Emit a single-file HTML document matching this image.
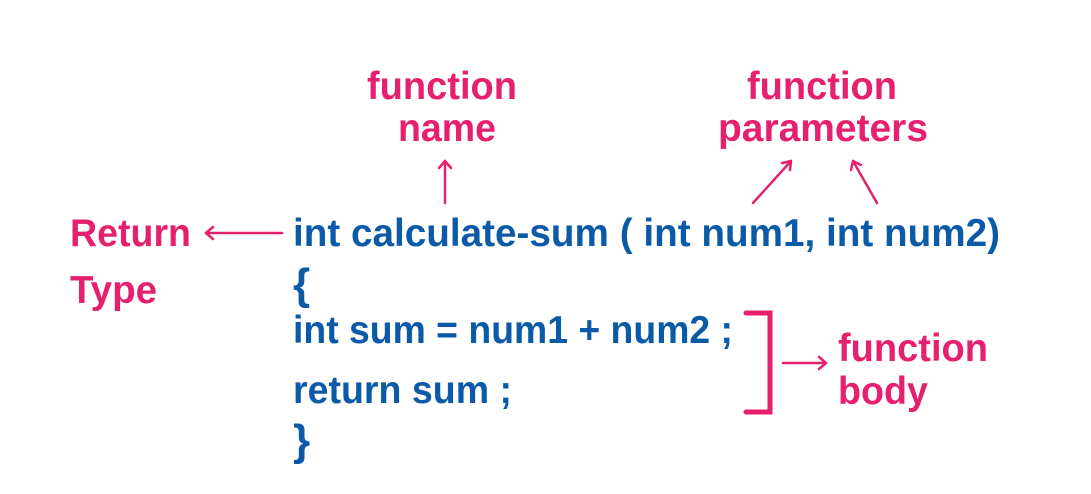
<!DOCTYPE html>
<html><head><meta charset="utf-8"><style>
html,body{margin:0;padding:0;background:#fff;}
svg{display:block;}
text{font-family:"Liberation Sans",sans-serif;font-weight:bold;}
.b{fill:#0b5aa8;font-size:39px;}
.p{fill:#e6206f;font-size:39px;}
</style></head><body>
<svg width="1091" height="494" viewBox="0 0 1091 494" xmlns="http://www.w3.org/2000/svg">
<g class="p">
<text x="367" y="99" class="p" textLength="150" lengthAdjust="spacingAndGlyphs">function</text>
<text x="398" y="141" class="p" textLength="98" lengthAdjust="spacingAndGlyphs">name</text>
<text x="747" y="99" class="p" textLength="150" lengthAdjust="spacingAndGlyphs">function</text>
<text x="718" y="141" class="p" textLength="210" lengthAdjust="spacingAndGlyphs">parameters</text>
<text x="70" y="246" class="p" textLength="121" lengthAdjust="spacingAndGlyphs">Return</text>
<text x="70" y="303" class="p" textLength="87" lengthAdjust="spacingAndGlyphs">Type</text>
<text x="838" y="361" class="p" textLength="150" lengthAdjust="spacingAndGlyphs">function</text>
<text x="838" y="404" class="p" textLength="90" lengthAdjust="spacingAndGlyphs">body</text>
</g>
<text x="293" y="246" class="b" textLength="707" lengthAdjust="spacingAndGlyphs">int  calculate-sum ( int num1, int num2)</text>
<text x="293" y="299" class="b" font-size="44" style="font-size:44px">{</text>
<text x="293" y="343" class="b" textLength="440" lengthAdjust="spacingAndGlyphs">int sum = num1 + num2 ;</text>
<text x="293" y="403" class="b" textLength="219" lengthAdjust="spacingAndGlyphs">return sum ;</text>
<text x="293" y="455" class="b" style="font-size:44px">}</text>
<g stroke="#e6206f" stroke-width="2.5" fill="none" stroke-linecap="round" stroke-linejoin="round">
<line x1="282" y1="233" x2="206" y2="233"/><polyline points="213,227 206,233 213,239"/>
<line x1="445" y1="203" x2="445" y2="161"/><polyline points="439,168 445,161 451,168"/>
<line x1="753" y1="203" x2="791" y2="161"/><polyline points="782,163 791,161 790,170"/>
<line x1="877" y1="203" x2="853" y2="161"/><polyline points="851,170 853,161 861,165"/>
<line x1="783" y1="363" x2="826" y2="363"/><polyline points="819,357 826,363 819,369"/>
</g>
<polyline points="746,313 770,313 770,412 746,412" stroke="#e6206f" stroke-width="5" fill="none" stroke-linecap="round"/>
</svg>
</body></html>
